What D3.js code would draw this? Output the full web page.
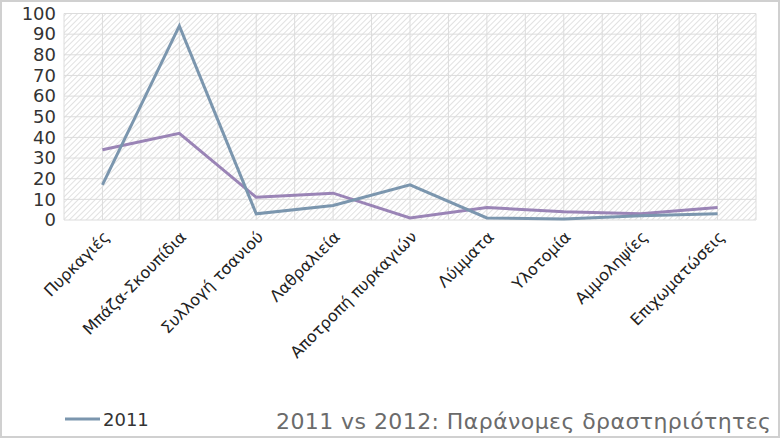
<!DOCTYPE html><html><head><meta charset="utf-8"><script src="https://cdn.jsdelivr.net/npm/d3@7"></script>
<style>body{margin:0;background:#fff}text{font-family:"DejaVu Sans",sans-serif}</style></head><body><svg id="c" width="780" height="438"></svg><script>
const categories=["Πυρκαγιές","Μπάζα-Σκουπίδια","Συλλογή τσανιού","Λαθραλιεία","Αποτροπή πυρκαγιών","Λύμματα","Υλοτομία","Αμμοληψίες","Επιχωματώσεις"];
const s2011=[17,94,3,7,17,1,0.5,2,3];
const s2012=[34,42,11,13,1,6,4,3,6];
const yTicks=[0,10,20,30,40,50,60,70,80,90,100];
const svg=d3.select("#c");
svg.append("rect").attr("x",1).attr("y",1).attr("width",778).attr("height",436).attr("fill","#fff").attr("stroke","#d0d0d0").attr("stroke-width",2);
const defs=svg.append("defs");
const p=defs.append("pattern").attr("id","h").attr("patternUnits","userSpaceOnUse").attr("width",4).attr("height",4).attr("patternTransform","rotate(45)");
p.append("rect").attr("width",4).attr("height",4).attr("fill","#fff");
p.append("line").attr("x1",0).attr("y1",0).attr("x2",0).attr("y2",4).attr("stroke","#d4d4d4").attr("stroke-width",1.4);
const L=64,R=756,T=13.5,B=220;
const x=d3.scaleBand().domain(categories).range([L,R]);
const y=d3.scaleLinear().domain([0,100]).range([B,T]);
svg.append("rect").attr("x",L).attr("y",T).attr("width",R-L).attr("height",B-T).attr("fill","url(#h)");
const g=svg.append("g");
yTicks.forEach(t=>g.append("line").attr("x1",L).attr("x2",R).attr("y1",y(t)).attr("y2",y(t)).attr("stroke","#dcdcdc"));
const xs=[];categories.forEach(c=>{xs.push(x(c));xs.push(x(c)+x.bandwidth()/2);});xs.push(R);
xs.forEach(v=>g.append("line").attr("x1",v).attr("x2",v).attr("y1",T).attr("y2",B).attr("stroke","#dcdcdc"));
const lf="'DejaVu Sans ExtraLight','DejaVu Sans',sans-serif";
const ya=svg.append("g").attr("transform",`translate(${L-6},0)`).call(d3.axisLeft(y).tickValues(yTicks).tickSize(0).tickPadding(2));
ya.select(".domain").remove();
ya.selectAll("text").attr("font-size",18).style("fill","#333").style("font-family",lf);
const cx=c=>x(c)+x.bandwidth()/2;
const line=d3.line().x((d,i)=>cx(categories[i])).y(d=>y(d));
svg.append("path").attr("d",line(s2012)).attr("fill","none").attr("stroke","#9a84b6").attr("stroke-width",3);
svg.append("path").attr("d",line(s2011)).attr("fill","none").attr("stroke","#7b96ae").attr("stroke-width",3);
const xa=svg.append("g").attr("transform",`translate(4,${B+14})`).call(d3.axisBottom(x).tickSize(0).tickPadding(0));
xa.select(".domain").remove();
xa.selectAll("text").attr("font-size",16).style("fill","#222").attr("text-anchor","end").attr("dy","0.35em").attr("transform","rotate(-45)").style("font-family",lf);
svg.append("line").attr("x1",65).attr("x2",100).attr("y1",419).attr("y2",419).attr("stroke","#7b96ae").attr("stroke-width",3);
svg.append("text").attr("x",103).attr("y",426).attr("font-size",18).style("fill","#333").style("font-family",lf).text("2011");
svg.append("text").attr("x",771).attr("y",429).attr("text-anchor","end").attr("font-size",22).attr("textLength",495).style("fill","#6b6b6b").style("font-family","'DejaVu Sans',sans-serif").text("2011 vs 2012: Παράνομες δραστηριότητες");
</script></body></html>
